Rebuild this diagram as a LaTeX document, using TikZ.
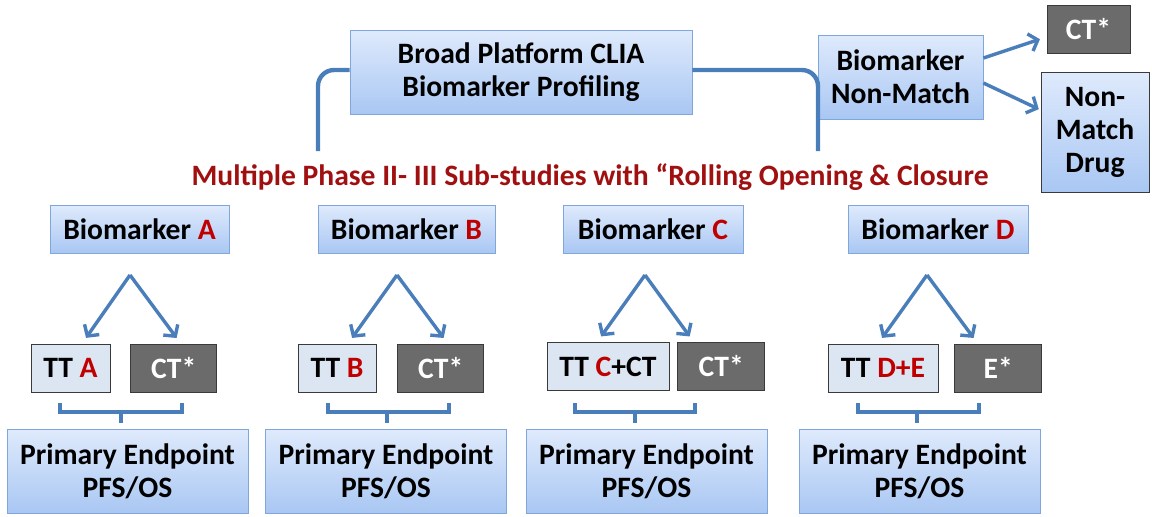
\documentclass[tikz,border=0pt]{standalone}
\usepackage{fontspec}
\setmainfont{Carlito}
\usepackage{xcolor}
\usetikzlibrary{arrows.meta, positioning}

\definecolor{boxtop}{HTML}{DFEAFC}
\definecolor{boxbot}{HTML}{A9C7F3}
\definecolor{boxline}{HTML}{7FA7DC}
\definecolor{linkblue}{HTML}{4A7EBB}
\definecolor{ttfill}{HTML}{DCE6F2}
\definecolor{ctfill}{HTML}{6B6B6B}
\definecolor{edgegray}{HTML}{3A3A3A}
\definecolor{letred}{HTML}{C00000}
\definecolor{titlered}{HTML}{A01010}

\begin{document}
\begin{tikzpicture}[x=0.5pt, y=-0.5pt,
        every node/.style={font=\bfseries\fontsize{14.8}{16.5}\selectfont},
        bluebox/.style={rectangle, draw=boxline, top color=boxtop, bottom color=boxbot, align=center, inner sep=0pt},
        ttbox/.style={rectangle, draw=edgegray, fill=ttfill, inner sep=0pt, minimum height=24pt},
        ctbox/.style={rectangle, draw=edgegray, fill=ctfill, text=white, inner sep=0pt, minimum height=24pt},
        biobox/.style={bluebox, minimum height=24pt},
        pebox/.style={bluebox, minimum width=120.5pt, minimum height=42pt},
        arr/.style={-{Straight Barb[length=4pt, width=9pt]}, line width=1.7pt, draw=linkblue, shorten >=3.5pt},
        brk/.style={line width=2pt, draw=linkblue}
    ]
        \useasboundingbox (0,0) rectangle (1152,516);

        % top row
        \node[bluebox, minimum width=171pt, minimum height=42pt] (broad) at (521,72) {Broad Platform CLIA\\Biomarker Profiling};
        \node[bluebox, minimum width=82.5pt, minimum height=42pt] (nonm) at (900.5,77) {Biomarker\\Non-Match};
        \node[ctbox, minimum width=41.5pt, minimum height=24pt] (cttop) at (1088.5,29) {CT*};
        \node[bluebox, draw=edgegray, minimum width=54pt, minimum height=60pt] (nmdrug) at (1095,132) {Non-\\Match\\Drug};
        \node[text=titlered] (title) at (590,177) {Multiple Phase II- III Sub-studies with “Rolling Opening \& Closure};

        \coordinate (legL) at (318,151);
        \coordinate (legR) at (818,151);
        \draw[brk, line width=2.2pt, rounded corners=8pt] ([yshift=1pt]broad.west) -| (legL);
        \draw[brk, line width=2.2pt, rounded corners=8pt] ([yshift=1pt]broad.east) -| (legR);
        \draw[arr] ([yshift=9.5pt]nonm.east) -- ([yshift=-4pt]cttop.west);
        \draw[arr, shorten >=1pt] ([yshift=-3pt]nonm.east) -- ([yshift=11pt]nmdrug.west);

        % sub-studies
        \node[biobox, minimum width=89.5pt] (bioA) at (139.5,229) {Biomarker \textcolor{letred}{A}};
        \node[biobox, minimum width=88.5pt] (bioB) at (406.5,229) {Biomarker \textcolor{letred}{B}};
        \node[biobox, minimum width=90pt]   (bioC) at (653,229)   {Biomarker \textcolor{letred}{C}};
        \node[biobox, minimum width=90pt]   (bioD) at (938,229)   {Biomarker \textcolor{letred}{D}};

        \node[ttbox, minimum width=39.5pt] (ttA) at (70.5,368) {TT \textcolor{letred}{A}};
        \node[ctbox, minimum width=43pt, right=10pt of ttA] (ctA) {CT*};
        \node[ttbox, minimum width=39pt] (ttB) at (337,368) {TT \textcolor{letred}{B}};
        \node[ctbox, minimum width=43pt, right=10.5pt of ttB] (ctB) {CT*};
        \node[ttbox, minimum width=61pt] (ttC) at (608,366.5) {TT \textcolor{letred}{C}+CT};
        \node[ctbox, minimum width=43.5pt, right=4pt of ttC] (ctC) {CT*};
        \node[ttbox, minimum width=55pt] (ttD) at (883,368) {TT \textcolor{letred}{D+E}};
        \node[ctbox, minimum width=43.5pt, right=8pt of ttD] (ctD) {E*};

        \node[pebox] (peA) at (127.5,471) {Primary Endpoint\\PFS/OS};
        \node[pebox] (peB) at (386,471)   {Primary Endpoint\\PFS/OS};
        \node[pebox] (peC) at (646.5,471) {Primary Endpoint\\PFS/OS};
        \node[pebox] (peD) at (919.5,471) {Primary Endpoint\\PFS/OS};

        \coordinate (apxA) at (130,275);
        \coordinate (apxB) at (397,275);
        \coordinate (apxC) at (645,275);
        \coordinate (apxD) at (927,275);
        \draw[arr] (apxA) -- ([xshift=5.75pt]ttA.north);
        \draw[arr] (apxA) -- ([xshift=3.5pt]ctA.north);
        \draw[arr] (apxB) -- ([xshift=5.5pt]ttB.north);
        \draw[arr] (apxB) -- ([xshift=3.5pt]ctB.north);
        \draw[arr] (apxC) -- ([xshift=-5.5pt]ttC.north);
        \draw[arr] (apxC) -- ([xshift=-13.75pt]ctC.north);
        \draw[arr] (apxD) -- ([xshift=-2.5pt]ttD.north);
        \draw[arr] (apxD) -- ([xshift=-10.25pt]ctD.north);

        % brackets under each pair
        \coordinate (brA) at (121,412);
        \coordinate (brB) at (387,412);
        \coordinate (brC) at (635,412);
        \coordinate (brD) at (917,412);
        \draw[brk] (60,403) |- (brA) -| (182,403);
        \draw[brk] (328,403) |- (brB) -| (449,403);
        \draw[brk] (575,403) |- (brC) -| (695,403);
        \draw[brk] (858,403) |- (brD) -| (979,403);
        \draw[brk, shorten >=3pt] (brA) -- (peA.north -| brA);
        \draw[brk, shorten >=3pt] (brB) -- (peB.north -| brB);
        \draw[brk, shorten >=3pt] (brC) -- (peC.north -| brC);
        \draw[brk, shorten >=3pt] (brD) -- (peD.north -| brD);
    \end{tikzpicture}
\end{document}
